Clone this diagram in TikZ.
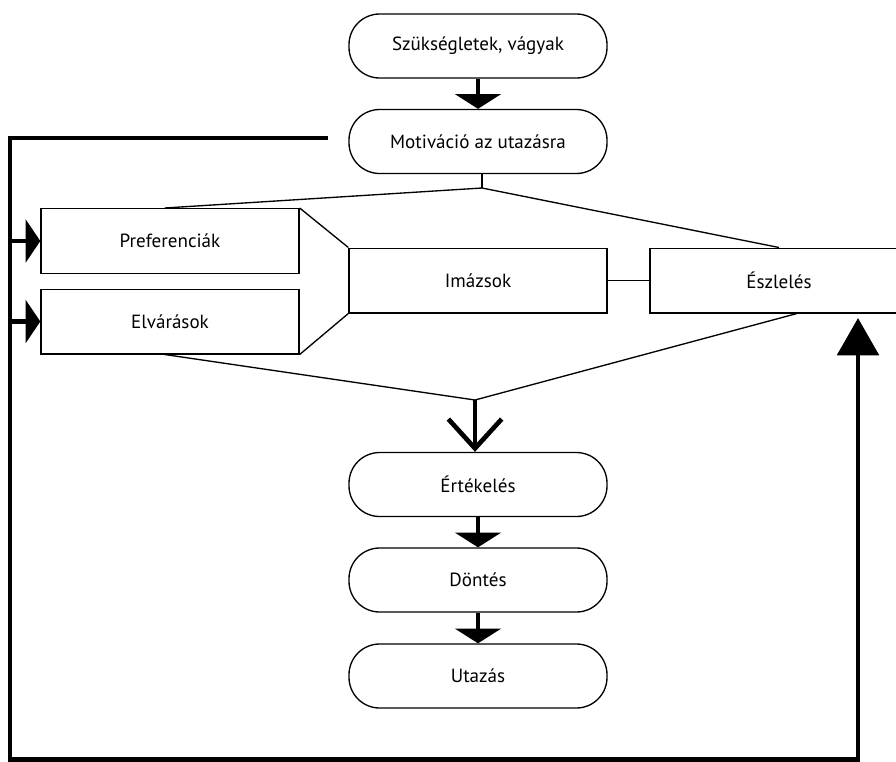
\documentclass[tikz,border=0pt]{standalone}
\usepackage{fontspec}
\setmainfont{PT Sans}
\usetikzlibrary{arrows.meta}

\tikzset{every picture/.style={line width=0.75pt}}
\tikzset{
  pill/.style={draw, rounded corners=23pt, minimum width=193.5pt, minimum height=48pt, line width=1pt, font=\fontsize{14.3}{16}\selectfont},
  box/.style={draw, rectangle, minimum width=193.5pt, minimum height=48.5pt, line width=1pt, font=\fontsize{14.3}{16}\selectfont},
  link/.style={line width=1pt},
  fat/.style={line width=3pt, -{Triangle[width=34pt,length=11pt]}},
  loopline/.style={line width=3.5pt},
  openhead/.style={line width=3.5pt, -{Straight Barb[width=40pt,length=22pt]}},
}

\begin{document}
\begin{tikzpicture}[x=0.75pt,y=0.75pt,yscale=-1,xscale=1]
	\useasboundingbox (0,0) rectangle (896,761);

	% Rounded Rect
	\node[pill] (needs) at (478,46) {Szükségletek, vágyak};
	% Rounded Rect
	\node[pill] (motiv) at (478,141.5) {Motiváció az utazásra};
	% Shape: Rectangle
	\node[box] (pref) at (170,241) {Preferenciák};
	% Shape: Rectangle
	\node[box] (elv) at (170,321.5) {Elvárások};
	% Shape: Rectangle
	\node[box] (imazs) at (478,280.5) {Imázsok};
	% Shape: Rectangle
	\node[box] (eszl) at (779,280.5) {Észlelés};
	% Rounded Rect
	\node[pill] (ert) at (478,484.5) {Értékelés};
	% Rounded Rect
	\node[pill] (dont) at (478,580) {Döntés};
	% Rounded Rect
	\node[pill] (utaz) at (478,676) {Utazás};

	\coordinate (fork) at (482,188);
	\coordinate (merge) at (475,400);
	\coordinate (loopin) at (328,138);
	\coordinate (loopl) at (10,759.5);
	\coordinate (loopr) at (858,759.5);
	\coordinate (loopend) at (858,318);

	%Straight Lines
	\draw[fat] (needs) -- (motiv);
	\draw[fat] (ert) -- (dont);
	\draw[fat] (dont) -- (utaz);
	%Straight Lines
	\draw[link] (motiv.south -| fork) -- (fork);
	\draw[link] (fork) -- ([xshift=-4pt]pref.north);
	\draw[link] (fork) -- (eszl.north);
	\draw[link] (pref.north east) -- (imazs.north west);
	\draw[link] (elv.south east) -- (imazs.south west);
	\draw[link] (imazs.east) -- (eszl.west);
	\draw[link] ([xshift=-4pt]elv.south) -- (merge);
	\draw[link] ([xshift=13.5pt]eszl.south) -- (merge);
	\draw[openhead] (merge) -- (merge |- ert.north);
	%Feedback loop
	\draw[loopline, -{Triangle[width=31pt,length=28pt]}] (loopin) -| (loopl) -- (loopr) -- (loopend);
	\draw[loopline, -{Triangle[width=32pt,length=11pt]}] (pref.west -| loopl) -- (pref.west);
	\draw[loopline, -{Triangle[width=32pt,length=11pt]}] (elv.west -| loopl) -- (elv.west);

\end{tikzpicture}
\end{document}
